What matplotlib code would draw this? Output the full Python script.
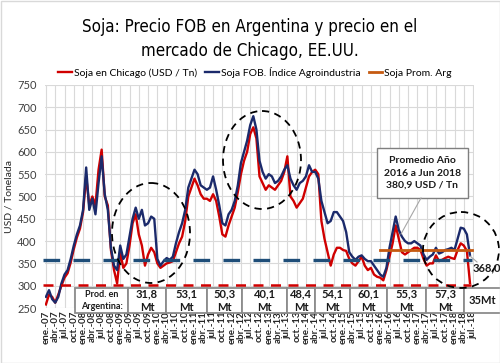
import numpy as np
import matplotlib
matplotlib.use("Agg")
import matplotlib.pyplot as plt
from matplotlib import font_manager
from matplotlib.font_manager import FontProperties
from matplotlib.patches import Ellipse, Rectangle

# monthly values, ene-2007 .. jun-2018 (USD / Tn)
fob_arg = [275, 290, 270, 262, 275, 305, 325, 335, 360, 390, 415, 435,
           470, 565, 470, 495, 460, 530, 590, 505, 470, 385, 345, 335,
           390, 360, 370, 410, 450, 475, 450, 470, 435, 440, 455, 450,
           360, 345, 355, 362, 358, 365, 395, 420, 440, 470, 520, 540,
           560, 550, 525, 520, 515, 520, 545, 515, 480, 440, 435, 460,
           470, 490, 525, 575, 600, 625, 660, 680, 650, 580, 555, 540,
           550, 545, 530, 535, 545, 560, 570, 540, 525, 515, 530, 535,
           545, 570, 555, 555, 540, 490, 465, 440, 445, 465, 465, 455,
           445, 420, 375, 365, 358, 365, 368, 360, 355, 355, 345, 335,
           325, 320, 340, 385, 420, 455, 425, 410, 400, 395, 395, 400,
           395, 390, 370, 358, 365, 370, 385, 372, 375, 380, 382, 385,
           380, 405, 430, 428, 415, 368]
chicago = [258, 280, 275, 262, 280, 300, 318, 328, 352, 382, 408, 428,
           465, 545, 480, 500, 480, 560, 605, 500, 480, 380, 335, 305,
           375, 340, 350, 390, 440, 460, 415, 390, 345, 370, 385, 375,
           350, 340, 345, 350, 352, 355, 375, 395, 410, 445, 500, 520,
           540, 525, 505, 495, 495, 490, 505, 490, 455, 415, 410, 435,
           455, 475, 510, 550, 580, 600, 640, 655, 630, 545, 530, 515,
           525, 520, 515, 525, 535, 555, 590, 500, 490, 475, 485, 495,
           520, 545, 555, 560, 550, 445, 405, 375, 345, 370, 385, 385,
           380, 378, 360, 350, 345, 355, 365, 345, 335, 340, 325, 320,
           318, 312, 335, 365, 395, 435, 405, 375, 370, 375, 380, 385,
           385, 380, 360, 345, 350, 350, 368, 355, 358, 362, 365, 362,
           360, 380, 395, 390, 378, 306]
prom_arg = 380.9
prom_start = 108          # ene-2016
linea_azul = 358
linea_roja = 302
ultimo = "368,0"

meses = ["ene.", "abr.", "jul.", "oct."]
tick_labels = [f"{meses[i % 4]}-{7 + i // 4:02d}" for i in range(47)]

prod_labels = ["Prod. en\nArgentina:", "31,8\nMt", "53,1\nMt", "50,3\nMt",
               "40,1\nMt", "48,4\nMt", "54,1\nMt", "60,1\nMt", "55,3\nMt",
               "57,3\nMt", "35Mt"]
prod_edges = [75, 128, 166, 207, 242, 287, 315, 350, 387, 426, 464, 510]

# look for a narrow font for the title
title_fp = None
for f in font_manager.fontManager.ttflist:
    fn = f.fname.lower()
    if ("narrow" in fn or "condensed" in fn) and "bold" not in fn and "oblique" not in fn \
            and "italic" not in fn and "light" not in fn:
        title_fp = FontProperties(fname=f.fname, size=12.2)
        break
if title_fp is None:
    title_fp = FontProperties(family="Roboto", size=12.5)

plt.rcParams['font.family'] = ['Lato', 'DejaVu Sans']

RED = "#D00000"
NAVY = "#1B2A6B"
ORANGE = "#C55A11"
DBLUE = "#1F4E79"

fig = plt.figure(figsize=(5.0, 3.63), dpi=100)
fig.patch.set_facecolor("white")
ax = fig.add_axes([0.09, 0.1515, 0.858, 0.6145])

x = np.arange(len(fob_arg))
ax.plot(x, chicago, color=RED, lw=1.7, label="Soja en Chicago (USD / Tn)", zorder=3)
ax.plot(x, fob_arg, color=NAVY, lw=1.7, label="Soja FOB. Índice Agroindustria", zorder=4)
ax.plot([prom_start, len(fob_arg) - 0.3], [prom_arg, prom_arg], color=ORANGE, lw=2,
        label="Soja Prom. Arg", zorder=5)
ax.plot([-1, len(fob_arg) - 0.5], [linea_azul, linea_azul], color=DBLUE, lw=2.4,
        dashes=(5, 4), zorder=6, clip_on=False)
ax.plot([-1, len(fob_arg) - 0.8], [linea_roja, linea_roja], color=RED, lw=1.8,
        dashes=(4, 3), zorder=6, clip_on=False)

ax.set_xlim(-0.3, 138.3)
ax.set_ylim(250, 750)
ax.set_yticks(range(250, 751, 50))
ax.set_xticks(range(0, 139, 3))
ax.set_xticklabels(tick_labels, rotation=90, fontsize=7, color="#262626", fontweight="bold")
ax.tick_params(axis="y", labelsize=8, colors="#404040", length=0, pad=6)
ax.tick_params(axis="x", length=0, pad=2)
ax.set_ylabel("USD / Tonelada", fontsize=7.5, color="#262626", labelpad=3)
ax.grid(True, color="#D9D9D9", lw=0.8)
ax.set_axisbelow(True)
for s in ax.spines.values():
    s.set_visible(False)

fig.text(0.5, 0.893, "Soja: Precio FOB en Argentina y precio en el\nmercado de Chicago, EE.UU.",
         ha="center", va="center", fontproperties=title_fp, linespacing=1.45)
fig.legend(loc="center", bbox_to_anchor=(0.51, 0.8), ncol=3, frameon=False, fontsize=7.5,
           handlelength=1.3, handletextpad=0.2, columnspacing=0.8)

# overlay in pixel coordinates for boxes and circles
ov = fig.add_axes([0, 0, 1, 1])
ov.set_xlim(0, 500)
ov.set_ylim(363, 0)
ov.axis("off")
ov.patch.set_alpha(0)

for i, lab in enumerate(prod_labels):
    x0, x1 = prod_edges[i], prod_edges[i + 1]
    ov.add_patch(Rectangle((x0, 288), x1 - x0, 25, facecolor="white", edgecolor="#8C8C8C", lw=1.3))
    fs = 6.5 if i == 0 else 8
    ov.text(min((x0 + x1) / 2, 482), 300.5, lab, ha="center", va="center", fontsize=fs,
            fontweight="bold", color="#1a1a1a", linespacing=1.3)

for cx, cy, w, h in [(151, 233, 78, 100), (262, 160, 78, 98), (461, 250, 76, 76)]:
    ov.add_patch(Ellipse((cx, cy), w, h, fill=False, edgecolor="black", lw=1.3, ls=(0, (4, 3))))

ov.plot([421, 401], [198, 234], color="#A6A6A6", lw=0.8)
ov.add_patch(Rectangle((377, 148), 91, 50, facecolor="white", edgecolor="#7F7F7F", lw=1))
ov.text(422.5, 173, "Promedio Año\n2016 a Jun 2018\n380,9 USD / Tn", ha="center", va="center",
        fontsize=7.5, fontweight="bold", color="#1a1a1a", linespacing=1.5)

ov.plot([470, 477], [256, 262], color="#A6A6A6", lw=0.8)
ov.text(473, 268, ultimo, ha="left", va="center", fontsize=8, fontweight="bold", color="#1a1a1a")

ov.add_patch(Rectangle((0.5, 0.5), 499, 362, fill=False, edgecolor="#D9D9D9", lw=1))

fig.savefig("out.png", dpi=100)
